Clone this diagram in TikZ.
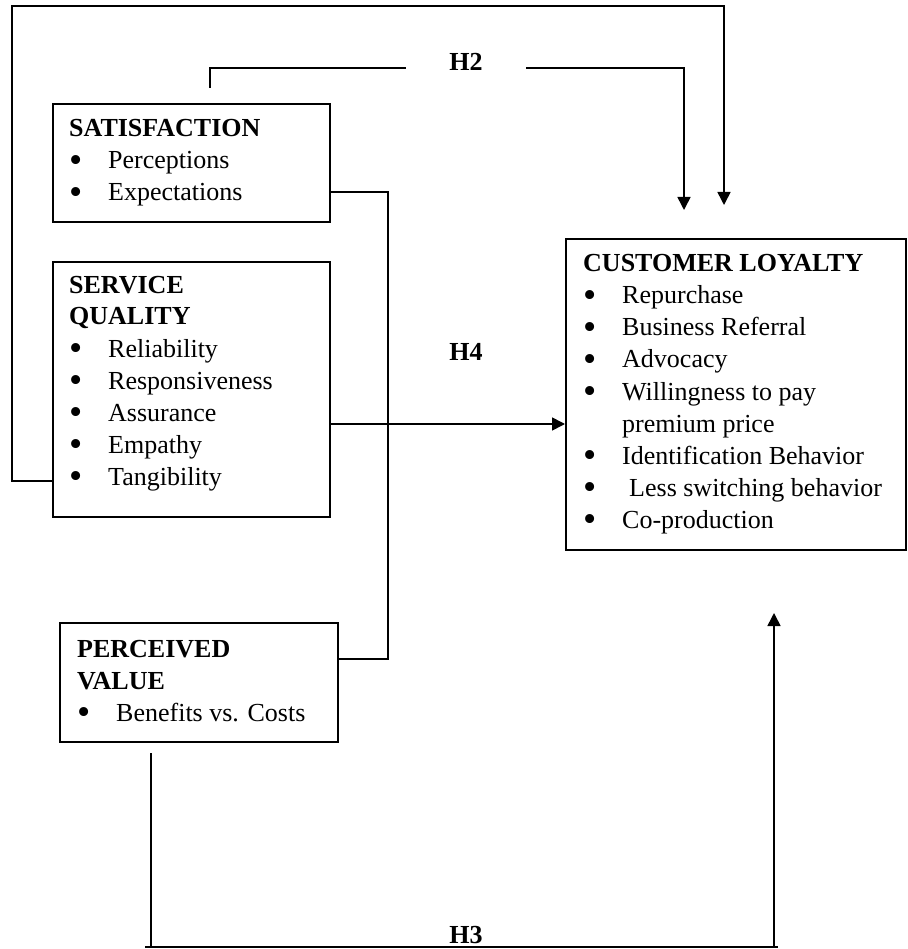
\documentclass[tikz,border=0pt]{standalone}
\usepackage{fontspec}
\setmainfont{Liberation Serif}
\usetikzlibrary{arrows.meta}
\newcommand\bitem[1]{\makebox[39pt][l]{\smash{\raisebox{-3.5pt}{\scalebox{1.45}{\textbullet}}}}#1}
\begin{document}
\begin{tikzpicture}[x=1pt,y=1pt,
  every node/.style={font=\fontsize{26pt}{32pt}\selectfont},
  box/.style={draw, line width=1.6pt, inner sep=0pt, anchor=north west},
  content/.style={anchor=base west, inner sep=0pt},
  lab/.style={anchor=base, inner sep=0pt, font=\fontsize{26pt}{32pt}\selectfont\bfseries},
  conn/.style={line width=1.6pt},
  arr/.style={conn, -{Triangle[length=13pt,width=13pt]}}]
\useasboundingbox (0,0) rectangle (907,-949);

% boxes
\node[box, minimum width=277pt, minimum height=118pt] (sat) at (52,-103) {};
\node[box, minimum width=277pt, minimum height=255pt] (sq) at (52,-261) {};
\node[box, minimum width=340pt, minimum height=311pt] (cl) at (565,-238) {};
\node[box, minimum width=278pt, minimum height=119pt] (pv) at (59,-622) {};

% contents
\node[content] (satT) at ([xshift=17pt,yshift=-34pt]sat.north west)
  {\parbox[t]{260pt}{\raggedright\textbf{SATISFACTION}\\\bitem{Perceptions}\\\bitem{Expectations}}};
\node[content] (sqT) at ([xshift=17pt,yshift=-32pt]sq.north west)
  {\parbox[t]{260pt}{\raggedright\textbf{SERVICE}\\\textbf{QUALITY}\\\bitem{Reliability}\\\bitem{Responsiveness}\\\bitem{Assurance}\\\bitem{Empathy}\\\bitem{Tangibility}}};
\node[content] (clT) at ([xshift=18pt,yshift=-34pt]cl.north west)
  {\parbox[t]{330pt}{\raggedright\textbf{CUSTOMER LOYALTY}\\\bitem{Repurchase}\\\bitem{Business Referral}\\\bitem{Advocacy}\\\bitem{Willingness to pay}\\\hspace*{39pt}premium price\\\bitem{Identification Behavior}\\\bitem{\hspace*{7pt}Less switching behavior}\\\bitem{Co-production}}};
\node[content] (pvT) at ([xshift=18pt,yshift=-35pt]pv.north west)
  {\parbox[t]{260pt}{\raggedright\textbf{PERCEIVED}\\\textbf{VALUE}\\\bitem{Benefits vs. Costs}}};

% labels
\node[lab, inner xsep=43.5pt] (h2) at (466,-71) {H2};
\node[lab] (h4) at (466,-360) {H4};
\node[lab] (h3) at (466,-943) {H3};

% coordinates
\coordinate (h1y) at (0,-481);
\coordinate (h1top) at (12,-6);
\coordinate (h1end) at (724,-205);
\coordinate (h2s) at (210,-88);
\coordinate (h2end) at (684,-210);
\coordinate (sp) at (388,-192);
\coordinate (spb) at (388,-659);
\coordinate (h4y) at (0,-424);
\coordinate (h3s) at (151,-753);
\coordinate (h3c) at (774,-947);
\coordinate (h3l) at (145,-947);
\coordinate (h3r) at (778,-947);
\coordinate (h3end) at (774,-613);

% connectors
\draw[arr] (sq.west |- h1y) -| (h1top) -| (h1end);
\draw[conn] (h2s) |- ([yshift=3pt]h2.base west);
\draw[arr] ([yshift=3pt]h2.base east) -| (h2end);
\draw[conn] (sat.east |- sp) -| (spb) -- (pv.east |- spb);
\draw[arr] (sq.east |- h4y) -- (cl.west |- h4y);
\draw[conn] (h3s) -- (h3s |- h3c);
\draw[conn] (h3l) -- (h3r);
\draw[arr] (h3c) -- (h3end);
\end{tikzpicture}
\end{document}
